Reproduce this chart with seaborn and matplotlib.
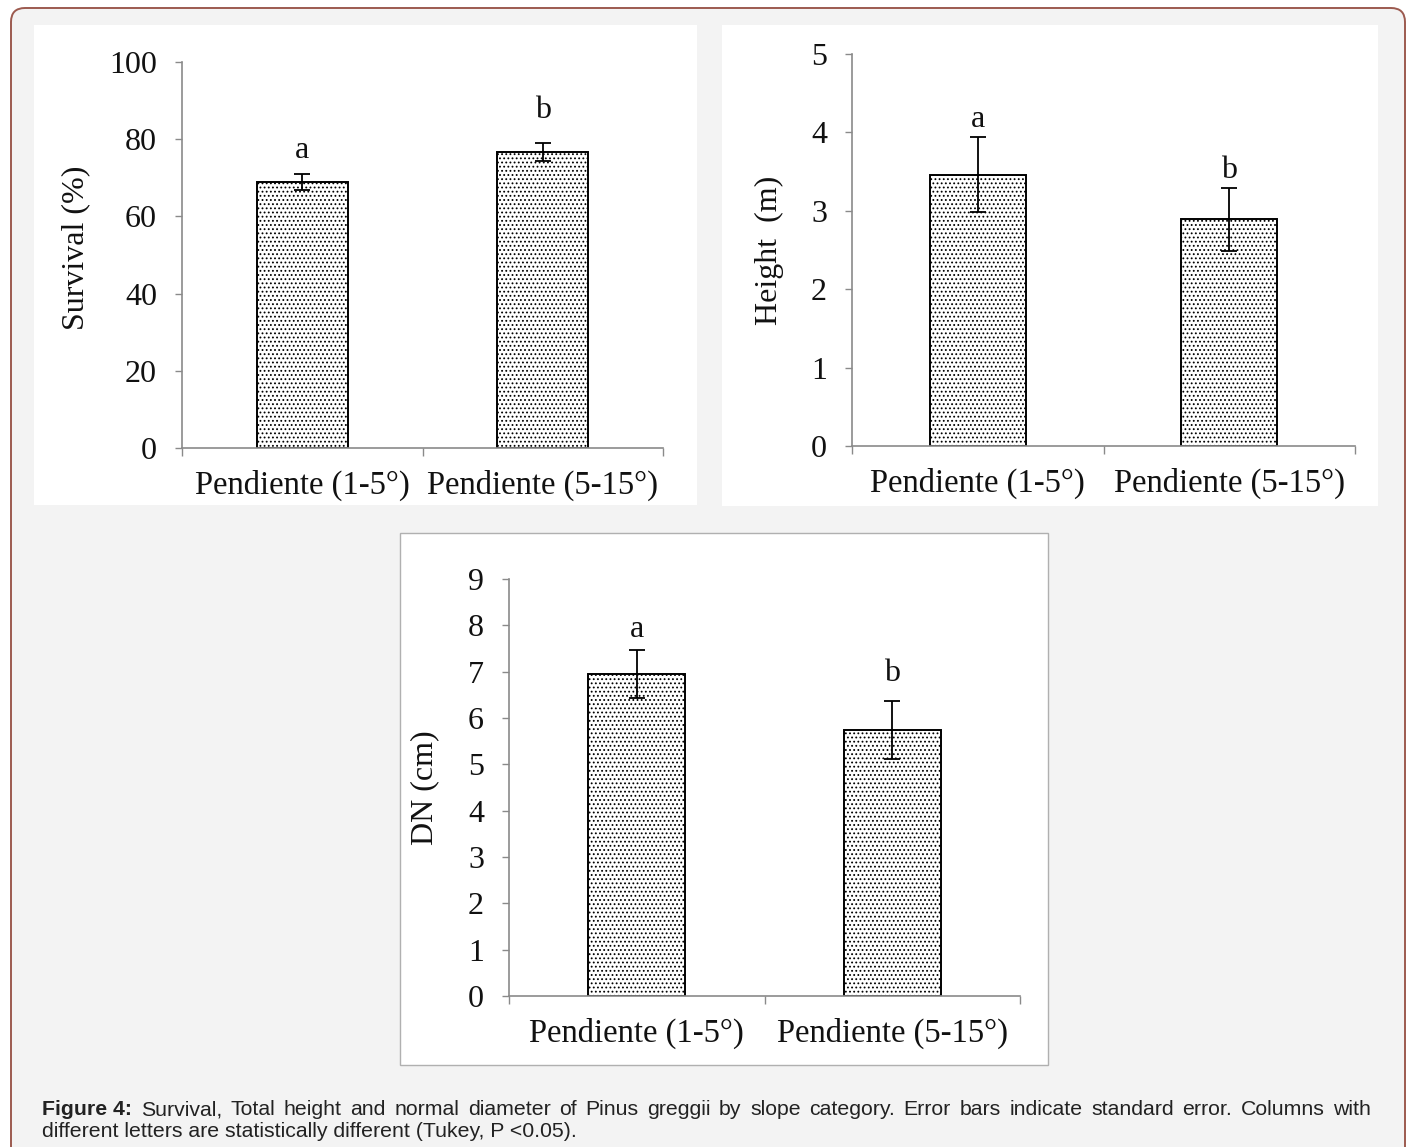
import matplotlib
matplotlib.use("Agg")
import matplotlib.pyplot as plt
from matplotlib.patches import Rectangle, FancyBboxPatch
import seaborn as sns

# data
categories = ["Pendiente (1-5°)", "Pendiente (5-15°)"]

survival = [68.9, 76.7]
survival_se = [2.0, 2.3]
survival_letters = ["a", "b"]

height = [3.46, 2.89]
height_se = [0.48, 0.40]
height_letters = ["a", "b"]

dn = [6.95, 5.74]
dn_se = [0.52, 0.63]
dn_letters = ["a", "b"]

caption_bold = "Figure 4:"
caption_line1 = ("Survival, Total height and normal diameter of Pinus greggii by slope category. "
                 "Error bars indicate standard error. Columns with")
caption_line2 = "different letters are statistically different (Tukey, P <0.05)."

sns.set_theme(style="white")
plt.rcParams["font.family"] = ["Liberation Serif", "DejaVu Serif"]
plt.rcParams["hatch.color"] = "#222222"
plt.rcParams["hatch.linewidth"] = 0.8

W, H = 1408, 1147
fig = plt.figure(figsize=(W / 100, H / 100), dpi=100, facecolor="white")

# outer frame
frame = FancyBboxPatch((0.11, -0.3), 13.94, 11.39 + 0.3,
                       boxstyle="round,pad=0,rounding_size=0.14",
                       transform=fig.dpi_scale_trans, facecolor="#f3f3f3",
                       edgecolor="#9c5a4f", linewidth=1.4, zorder=-3)
fig.add_artist(frame)


def panel(x0, y0, x1, y1, edge="none"):
    r = Rectangle((x0 / W, 1 - y1 / H), (x1 - x0) / W, (y1 - y0) / H,
                  transform=fig.transFigure, facecolor="white",
                  edgecolor=edge, linewidth=1.0, zorder=-2)
    fig.add_artist(r)


panel(34, 25, 697, 505)
panel(722, 25, 1378, 506)
panel(400, 533, 1048, 1065, edge="#b0b0b0")


def draw(rect, values, errs, letters, ylim, yticks, ylabel, label_xy, letter_off):
    x0, y0, x1, y1 = rect
    ax = fig.add_axes([x0 / W, 1 - y1 / H, (x1 - x0) / W, (y1 - y0) / H])
    ax.set_facecolor("none")
    sns.barplot(x=categories, y=values, ax=ax, color="white", width=0.38,
                edgecolor="black", linewidth=1.4, hatch="....", saturation=1)
    xs = [p.get_x() + p.get_width() / 2 for p in ax.patches]
    ax.errorbar(xs, values, yerr=errs, fmt="none", ecolor="black",
                elinewidth=1.3, capsize=6, capthick=1.3, zorder=5)
    for x, v, e, t, off in zip(xs, values, errs, letters, letter_off):
        ax.annotate(t, (x, v + e), xytext=(0, off), textcoords="offset points",
                    ha="center", va="baseline", fontsize=23, color="#111111")
    ax.set_xlim(-0.5, 1.5)
    ax.set_ylim(*ylim)
    ax.set_yticks(yticks)
    ax.set_xticks([-0.5, 0.5, 1.5], minor=True)
    sns.despine(ax=ax)
    for s in ["left", "bottom"]:
        ax.spines[s].set_color("#8a8a8a")
        ax.spines[s].set_linewidth(1.2)
    ax.tick_params(axis="y", which="major", direction="out", length=5,
                   width=1.0, color="#8a8a8a", labelsize=23, pad=13,
                   labelcolor="#111111", left=True)
    ax.tick_params(axis="x", which="major", length=0, labelsize=23.5, pad=16,
                   labelcolor="#111111")
    ax.tick_params(axis="x", which="minor", direction="out", length=6,
                   width=1.0, color="#8a8a8a", bottom=True)
    ax.set_ylabel(ylabel, fontsize=23, color="#111111")
    ax.yaxis.set_label_coords(*label_xy)
    return ax


draw((182, 62, 663, 448), survival, survival_se, survival_letters,
     (0, 100), [0, 20, 40, 60, 80, 100], "Survival (%)", (-0.19, 0.518), (12, 18))
draw((852, 54, 1355, 446), height, height_se, height_letters,
     (0, 5), [0, 1, 2, 3, 4, 5], "Height  (m)", (-0.135, 0.5), (7, 7))
draw((509, 579, 1020, 996), dn, dn_se, dn_letters,
     (0, 9), list(range(10)), "DN (cm)", (-0.137, 0.5), (9, 14))

# caption, first line justified to the full width
cap_font = ["Liberation Sans", "DejaVu Sans"]
cap_kw = dict(fontsize=15.3, family=cap_font, color="#222222", va="baseline")
left, right = 42, 1371
y1 = 1 - 1115 / H
words = [(caption_bold, "bold")] + [(w, "normal") for w in caption_line1.split()]
fig.canvas.draw()
r = fig.canvas.get_renderer()
texts = []
for w, fw in words:
    t = fig.text(0, y1, w, fontweight=fw, **cap_kw)
    texts.append(t)
widths = [t.get_window_extent(r).width for t in texts]
gap = (right - left - sum(widths)) / (len(texts) - 1)
x = left
for t, wd in zip(texts, widths):
    t.set_x(x / W)
    x += wd + gap
fig.text(left / W, 1 - 1137 / H, caption_line2, **cap_kw)

fig.savefig("out.png", dpi=100, facecolor="white")
